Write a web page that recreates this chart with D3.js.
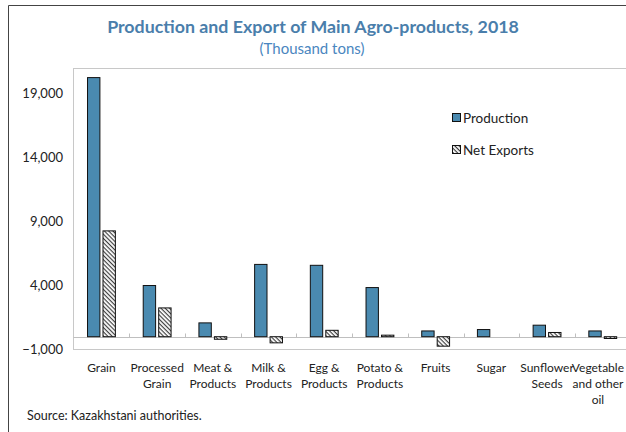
<!DOCTYPE html>
<html><head><meta charset="utf-8">
<script src="https://cdn.jsdelivr.net/npm/d3@7"></script>
<style>
html,body{margin:0;padding:0;background:#fff;}
svg{display:block;font-family:Lato,"Open Sans",sans-serif;}
</style></head>
<body>
<svg id="chart" width="626" height="432"></svg>
<script>
const categories = ["Grain","Processed\nGrain","Meat &\nProducts","Milk &\nProducts","Egg &\nProducts","Potato &\nProducts","Fruits","Sugar","Sunflower\nSeeds","Vegetable\nand other\noil"];
const production = [20250, 4000, 1080, 5650, 5580, 3840, 450, 560, 900, 450];
const netExports = [8270, 2250, -200, -480, 500, 120, -740, 0, 330, -140];
const seriesNames = ["Production","Net Exports"];
const yTicks = [-1000, 4000, 9000, 14000, 19000];
const title = "Production and Export of Main Agro-products, 2018";
const subtitle = "(Thousand tons)";
const source = "Source: Kazakhstani authorities.";

const svg = d3.select("#chart");
const defs = svg.append("defs");
const pat = defs.append("pattern").attr("id","hatch").attr("patternUnits","userSpaceOnUse")
  .attr("width",3).attr("height",3).attr("patternTransform","rotate(45)");
pat.append("rect").attr("width",3).attr("height",3).attr("fill","#fff");
pat.append("line").attr("x1",0).attr("y1",0.6).attr("x2",3).attr("y2",0.6).attr("stroke","#333").attr("stroke-width",1.1);

// outer frame
svg.append("path").attr("d","M8.5,432 L8.5,5.5 L626,5.5").attr("fill","none").attr("stroke","#444").attr("stroke-width",1);

const x = d3.scaleBand().domain(categories).range([73.6, 630.6]).padding(0);
const x1 = d3.scaleBand().domain(seriesNames).range([0, x.bandwidth()]).paddingInner(0.2).paddingOuter(0.9);
const y = d3.scaleLinear().domain([-1000, 21000]).range([349.5, 68]);

// plot box
svg.append("rect").attr("x",73.5).attr("y",68.5).attr("width",700).attr("height",281)
  .attr("fill","none").attr("stroke","#c8c8c8").attr("stroke-width",1);

// zero line with inside ticks
const zeroY = Math.round(y(0)) + 0.5;
const gx = svg.append("g").attr("transform",`translate(0,${zeroY})`);
gx.append("line").attr("x1",73.5).attr("x2",640).attr("y1",0).attr("y2",0).attr("stroke","#bfbfbf");
gx.selectAll("line.tk").data(categories.slice(1)).join("line").attr("class","tk")
  .attr("x1",d=>Math.round(x(d))+0.5).attr("x2",d=>Math.round(x(d))+0.5)
  .attr("y1",0).attr("y2",-4).attr("stroke","#bfbfbf");

// y axis labels
const yAxis = d3.axisLeft(y).tickValues(yTicks).tickSize(0).tickPadding(0).tickFormat(d3.format(","));
const gy = svg.append("g").attr("transform","translate(63,0)").call(yAxis);
gy.select(".domain").remove();
gy.selectAll("text").attr("font-size",13).attr("fill","#222").attr("font-family","Lato,'Open Sans',sans-serif");

// bars
const rows = categories.map((c,i)=>({c, vals:[{s:"Production",v:production[i]},{s:"Net Exports",v:netExports[i]}]}));
const g = svg.append("g");
const grp = g.selectAll("g").data(rows).join("g").attr("transform",d=>`translate(${x(d.c)},0)`);
grp.selectAll("rect").data(d=>d.vals.filter(v=>v.v!==0)).join("rect")
  .attr("x",d=>x1(d.s))
  .attr("width",x1.bandwidth())
  .attr("y",d=>y(Math.max(0,d.v)))
  .attr("height",d=>Math.abs(y(d.v)-y(0)))
  .attr("fill",d=>d.s==="Production"?"#4a8ab0":"url(#hatch)")
  .attr("stroke","#111").attr("stroke-width",1);

// x labels
const lab = svg.append("g");
categories.forEach(c=>{
  const cx = x(c)+x.bandwidth()/2;
  const t = lab.append("text").attr("x",cx).attr("y",372)
    .attr("text-anchor","middle").attr("font-size",12).attr("fill","#222");
  c.split("\n").forEach((ln,i)=>t.append("tspan").attr("x",cx).attr("dy",i?16:0).text(ln));
  // keep text inside the picture
  const bb = t.node().getBBox();
  const over = bb.x + bb.width - 624;
  if (over > 0) t.selectAll("tspan").attr("x", cx - over);
});

// legend
const leg = svg.append("g");
seriesNames.forEach((s,i)=>{
  const yy = 118 + i*32;
  leg.append("rect").attr("x",452.5).attr("y",yy-4.5).attr("width",8).attr("height",8)
    .attr("fill",i?"url(#hatch)":"#4a8ab0").attr("stroke","#111");
  leg.append("text").attr("x",463).attr("y",yy+4.5).attr("font-size",13.5).attr("fill","#222").text(s);
});

// titles
svg.append("text").attr("x",313).attr("y",33).attr("text-anchor","middle")
  .attr("font-size",17.8).attr("font-weight","bold").attr("fill","#4a7eab").text(title);
svg.append("text").attr("x",312).attr("y",54).attr("text-anchor","middle")
  .attr("font-size",15).attr("fill","#4a86c0").text(subtitle);
svg.append("text").attr("x",27).attr("y",420).attr("font-size",12.5).attr("fill","#222").text(source);
</script>
</body></html>
